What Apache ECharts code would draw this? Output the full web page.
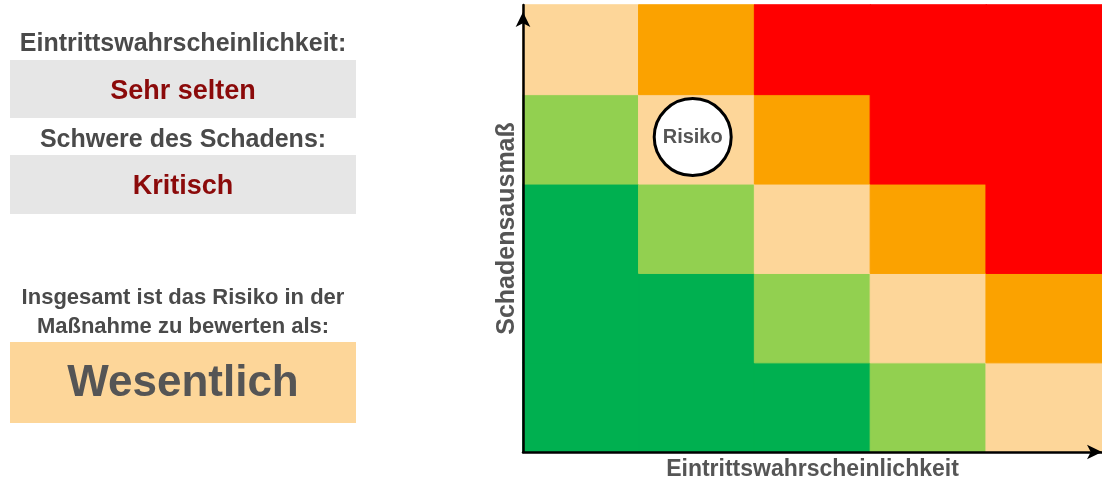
<!DOCTYPE html>
<html>
<head>
<meta charset="utf-8">
<script src="https://cdn.jsdelivr.net/npm/echarts@6/dist/echarts.min.js"></script>
<style>
  html, body { margin: 0; padding: 0; background: #fff; }
  #risk { width: 1102px; height: 482px; }
</style>
</head>
<body>
<div id="risk"></div>
<script>
var wahrscheinlichkeit = ['1', '2', '3', '4', '5'];
var schaden = ['1', '2', '3', '4', '5'];
// Risikostufe je Zeile (von unten nach oben), 0 = gering ... 4 = hoch
var stufen = [
    [0, 0, 0, 1, 2],
    [0, 0, 1, 2, 3],
    [0, 1, 2, 3, 4],
    [1, 2, 3, 4, 4],
    [2, 3, 4, 4, 4]
];
var stufenFarben = ['#00b050', '#92d050', '#fdd699', '#fba200', '#ff0000'];
var risikoPunkt = [1, 3];

var zellen = [];
stufen.forEach(function (zeile, y) {
    zeile.forEach(function (v, x) {
        var c = stufenFarben[v];
        zellen.push({
            value: [x, y, v],
            itemStyle: { color: c, borderColor: c, borderWidth: 1 }
        });
    });
});

var mychart = echarts.init(document.getElementById('risk'));

var grau = '#4a4a4a';
var font = 'Arial, "Liberation Sans", sans-serif';

function achse(name, gap, size, pfeilVersatz) {
    return {
        type: 'category',
        name: name,
        nameLocation: 'middle',
        nameGap: gap,
        z: 10,
        nameTextStyle: { fontSize: size, fontWeight: 'bold', color: '#555', fontFamily: font },
        axisLine: {
            show: true,
            symbol: ['none', 'arrow'],
            symbolSize: [11, 15],
            symbolOffset: [0, pfeilVersatz],
            lineStyle: { color: '#000', width: 2.5 }
        },
        axisTick: { show: false },
        axisLabel: { show: false },
        splitLine: { show: false }
    };
}

var xAchse = achse('Eintrittswahrscheinlichkeit', 6, 23, 0);
xAchse.data = wahrscheinlichkeit;
var yAchse = achse('Schadensausmaß', 3, 25, -7);
yAchse.data = schaden;

function zeile(text, y, size, farbe) {
    return {
        type: 'text',
        x: 183,
        y: y,
        z: 5,
        style: {
            text: text,
            font: 'bold ' + size + 'px ' + font,
            fill: farbe,
            align: 'center',
            verticalAlign: 'middle'
        }
    };
}

option = {
    backgroundColor: '#ffffff',
    animation: false,
    grid: {
        left: 523,
        right: 0,
        top: 5,
        bottom: 30,
        containLabel: false,
        outerBoundsMode: 'none'
    },
    xAxis: xAchse,
    yAxis: yAchse,
    series: [
        {
            type: 'heatmap',
            data: zellen,
            z: 1,
            emphasis: { disabled: true }
        },
        {
            type: 'scatter',
            data: [risikoPunkt],
            z: 3,
            symbol: 'circle',
            symbolSize: 77,
            symbolOffset: [-4, -2],
            itemStyle: { color: '#fff', opacity: 1, borderColor: '#000', borderWidth: 3 },
            label: {
                show: true,
                position: 'inside',
                formatter: 'Risiko',
                fontSize: 20,
                fontWeight: 'bold',
                color: '#555',
                fontFamily: font
            },
            emphasis: { disabled: true }
        }
    ],
    graphic: [
        { type: 'rect', shape: { x: 10, y: 60, width: 346, height: 58 }, style: { fill: '#e6e6e6' } },
        { type: 'rect', shape: { x: 10, y: 155, width: 346, height: 59 }, style: { fill: '#e6e6e6' } },
        { type: 'rect', shape: { x: 10, y: 342, width: 346, height: 81 }, style: { fill: '#fdd699' } },
        zeile('Eintrittswahrscheinlichkeit:', 44, 25, grau),
        zeile('Sehr selten', 92, 27, '#8b0a0a'),
        zeile('Schwere des Schadens:', 140, 25, grau),
        zeile('Kritisch', 187, 27, '#8b0a0a'),
        zeile('Insgesamt ist das Risiko in der', 298, 22, grau),
        zeile('Maßnahme zu bewerten als:', 327, 22, grau),
        zeile('Wesentlich', 384, 44, '#555')
    ]
};
mychart.setOption(option, true);
</script>
</body>
</html>
